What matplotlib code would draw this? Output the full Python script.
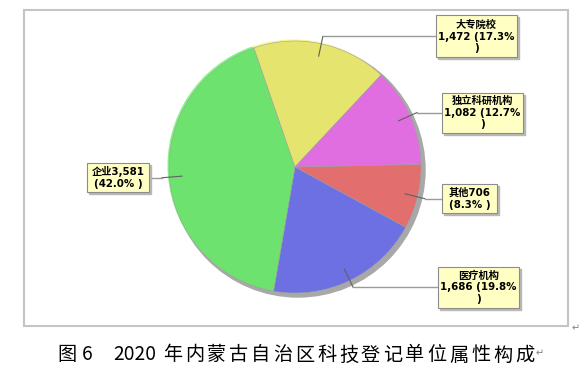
import numpy as np
import matplotlib.pyplot as plt
from matplotlib.patches import Rectangle, Circle

plt.rcParams['font.family'] = ['Noto Sans CJK SC', 'DejaVu Sans']

# data (clockwise from the right)
names = ["其他", "医疗机构", "企业", "大专院校", "独立科研机构"]
counts = [706, 1686, 3581, 1472, 1082]
pcts = ["8.3%", "19.8%", "42.0%", "17.3%", "12.7%"]
colors = ["#E26E6E", "#6C70E2", "#6EE26E", "#E4E46E", "#E16EE1"]
label_text = [
    "其他706\n(8.3% )",
    "医疗机构\n1,686 (19.8%\n)",
    "企业3,581\n(42.0% )",
    "大专院校\n1,472 (17.3%\n)",
    "独立科研机构\n1,082 (12.7%\n)",
]
# box left edge x and width (px)
box_x = [442, 438, 87, 436, 442]
box_w = [55, 81, 62, 81, 81]
box_h = [29, 41, 29, 42, 40]

caption_head = ["图", "6", "2020"]
caption_body = "年内蒙古自治区科技登记单位属性构成"

W, H = 587, 380
fig = plt.figure(figsize=(W / 100, H / 100), dpi=100)
ax = fig.add_axes([0, 0, 1, 1])


def py(y):
    return H - y


cx, cy, r = 295, py(167), 126
start = 1.2

# shadow + light rim
ax.add_patch(Circle((cx + 3, cy - 3), r + 1, color="#A8A8A8", zorder=2))
light = ["#F08A8A", "#8A8EF0", "#86F586", "#F5F58A", "#F08AF0"]
ax.pie(counts, colors=light, startangle=start, counterclock=False,
       center=(cx - 1.5, cy + 1.5), radius=r, frame=True,
       wedgeprops=dict(linewidth=0, zorder=3))
wedges, _ = ax.pie(counts, colors=colors, startangle=start, counterclock=False,
                   center=(cx, cy), radius=r, frame=True,
                   wedgeprops=dict(linewidth=0.4, edgecolor="#A0A0A0"))
for w in wedges:
    w.set_zorder(4)
ax.set_xlim(0, W)
ax.set_ylim(0, H)
ax.set_aspect('equal')
ax.axis('off')

# outer frame
ax.add_patch(Rectangle((23.5, py(326)), 544, 316, fill=False,
                       edgecolor="#C4C4C4", lw=1.5, zorder=1))

# labels with leader lines
for i, w in enumerate(wedges):
    ang = np.deg2rad((w.theta1 + w.theta2) / 2)
    ax_, ay_ = cx + 0.9 * r * np.cos(ang), cy + 0.9 * r * np.sin(ang)
    ex, ey = cx + 1.06 * r * np.cos(ang), cy + 1.06 * r * np.sin(ang)
    bx0, bw, bh = box_x[i], box_w[i], box_h[i]
    hx = bx0 if np.cos(ang) > 0 else bx0 + bw
    ax.plot([ax_, ex], [ay_, ey], color="#606060", lw=0.8, zorder=5)
    ax.plot([ex, hx], [ey, ey], color="#9A9A9A", lw=1.0, zorder=5)
    by = ey - bh / 2
    ax.add_patch(Rectangle((bx0 + 2, by - 2), bw, bh, color="#B8B8B8", zorder=5))
    ax.add_patch(Rectangle((bx0, by), bw, bh, facecolor="#FFFFC4",
                           edgecolor="#8C8C8C", lw=0.8, zorder=6))
    ax.text(bx0 + bw / 2, by + bh / 2, label_text[i], ha="center", va="center",
            multialignment="center", fontsize=7.4, fontweight="bold",
            family=["DejaVu Sans", "Noto Sans CJK SC"],
            linespacing=1.2, zorder=7)

# caption (Word grid spacing)
cap_y = py(355)
for txt, x in zip(caption_head, [57, 82, 113]):
    ax.text(x, cap_y, txt, fontsize=13.8, ha="left", va="center")
for k, ch in enumerate(caption_body):
    ax.text(163 + 22 * k, cap_y, ch, fontsize=13.8, ha="left", va="center")
ax.text(536, py(353), "↵", fontsize=7, color="#808080", ha="left", va="center",
        family="DejaVu Sans")
ax.text(572, py(328), "↵", fontsize=7, color="#808080", ha="left", va="center",
        family="DejaVu Sans")

fig.savefig("out.png", dpi=100)
